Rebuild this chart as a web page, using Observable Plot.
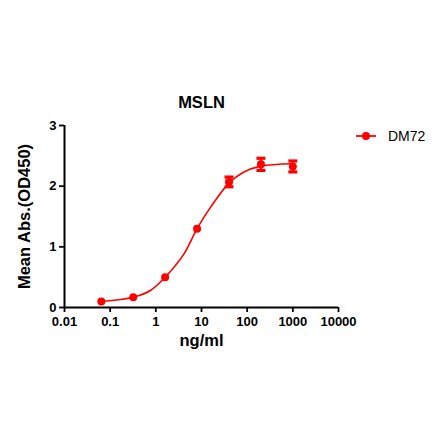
<!DOCTYPE html>
<html>
<head>
<meta charset="utf-8">
<script src="https://cdn.jsdelivr.net/npm/d3@7"></script>
<script src="https://cdn.jsdelivr.net/npm/@observablehq/plot@0.6"></script>
<style>
  html, body { margin: 0; padding: 0; background: #fff; }
  #chart { position: relative; width: 440px; height: 441px; }
</style>
</head>
<body>
<div id="chart"></div>
<script>
const title = "MSLN";
const seriesName = "DM72";
const xLabel = "ng/ml";
const yLabel = "Mean Abs.(OD450)";
const conc = [0.064, 0.32, 1.6, 8, 40, 200, 1000];
const meanAbs = [0.10, 0.17, 0.50, 1.30, 2.07, 2.36, 2.325];
const errAbs = [0.01, 0.01, 0.01, 0.01, 0.08, 0.10, 0.09];
const curveX = [0.064, 0.32, 0.76, 1.6, 4.1, 8, 15.7, 40, 83, 200, 1000];
const curveY = [0.10, 0.17, 0.28, 0.50, 0.88, 1.30, 1.65, 2.05, 2.23, 2.33, 2.37];
const xTicks = [0.01, 0.1, 1, 10, 100, 1000, 10000];
const yTicks = [0, 1, 2, 3];

const red = "#ff0000";
const pts = conc.map((c, i) => ({x: c, y: meanAbs[i], e: errAbs[i]}));
const curve = curveX.map((c, i) => ({x: c, y: curveY[i]}));
const bars = pts.filter(d => d.e > 0.03);
const caps = bars.flatMap(d => [{x: d.x, y: d.y + d.e}, {x: d.x, y: d.y - d.e}]);

const capSymbol = {
  draw(ctx, size) {
    const w = 4.5, h = 1.6;
    ctx.moveTo(-w, -h); ctx.lineTo(w, -h); ctx.lineTo(w, h); ctx.lineTo(-w, h); ctx.closePath();
  }
};

const font = "Liberation Sans, Arial, sans-serif";

const plot = Plot.plot({
  width: 440,
  height: 441,
  marginLeft: 64,
  marginRight: 102,
  marginTop: 125,
  marginBottom: 134,
  style: {fontFamily: font, background: "#fff", overflow: "visible"},
  x: {type: "log", domain: [0.01, 10000], label: null},
  y: {domain: [0, 3], label: null},
  marks: [
    Plot.axisX({ticks: xTicks, tickFormat: d => String(d), tickSize: 5, tickPadding: 4, fontSize: 13, fontWeight: "bold", stroke: "#000", strokeWidth: 1.8, label: null}),
    Plot.axisY({ticks: yTicks, tickFormat: d => String(d), tickSize: 5, tickPadding: 3, fontSize: 13, fontWeight: "bold", stroke: "#000", strokeWidth: 1.8, label: null}),
    Plot.ruleY([0], {stroke: "#000", strokeWidth: 2}),
    Plot.ruleX([0.01], {stroke: "#000", strokeWidth: 2}),
    Plot.line(curve, {x: "x", y: "y", stroke: red, strokeWidth: 1.6, curve: "catmull-rom"}),
    Plot.link(bars, {x1: "x", x2: "x", y1: d => d.y - d.e, y2: d => d.y + d.e, stroke: red, strokeWidth: 2}),
    Plot.dot(caps, {x: "x", y: "y", symbol: capSymbol, r: 3, fill: red, stroke: "none"}),
    Plot.dot(pts, {x: "x", y: "y", r: 4, fill: red, stroke: "none"}),
    Plot.text([title], {frameAnchor: "top", dy: -29, fontSize: 16.5, fontWeight: "bold", fill: "#000"}),
    Plot.text([xLabel], {frameAnchor: "bottom", dy: 38, fontSize: 16.5, fontWeight: "bold", fill: "#000"}),
    Plot.text([yLabel], {frameAnchor: "left", textAnchor: "middle", dx: -40, rotate: -90, fontSize: 16.5, fontWeight: "bold", fill: "#000"})
  ]
});

document.getElementById("chart").appendChild(plot);

// legend, placed to the right of the frame
const svg = d3.select(plot);
const lg = svg.append("g").attr("transform", "translate(356,136)");
lg.append("line").attr("x1", 0).attr("x2", 20).attr("y1", 0).attr("y2", 0).attr("stroke", red).attr("stroke-width", 1.8);
lg.append("circle").attr("cx", 10).attr("cy", 0).attr("r", 4).attr("fill", red);
lg.append("text").attr("x", 32).attr("y", 0).attr("dy", "0.35em").attr("text-anchor", "start").attr("font-family", font).attr("font-size", 14).attr("fill", "#000").text(seriesName);
</script>
</body>
</html>
